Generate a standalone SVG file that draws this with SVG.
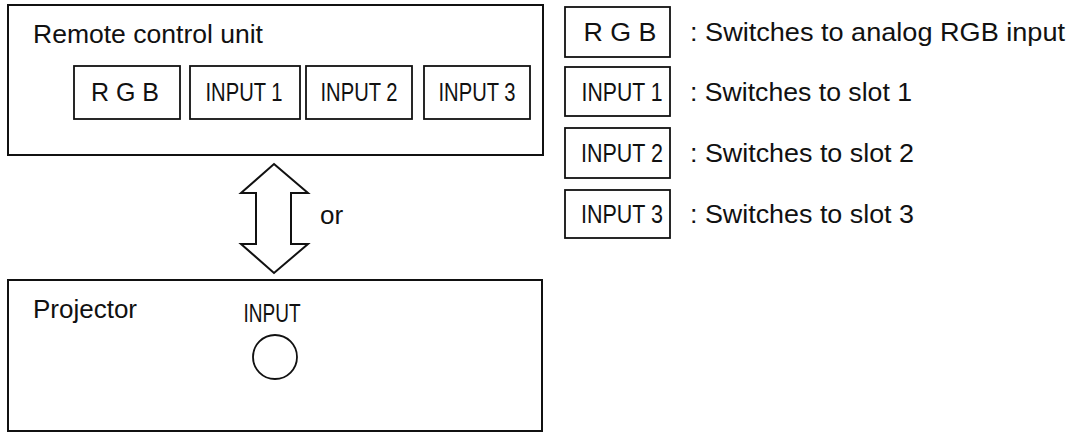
<svg xmlns="http://www.w3.org/2000/svg" width="1070" height="433" viewBox="0 0 1070 433">
<style>
.box{fill:#fff;stroke:#111;stroke-width:2}
.btn{fill:#fff;stroke:#111;stroke-width:1.8}
.t{font-family:"Liberation Sans",Arial,sans-serif;font-size:26px;fill:#111}
.b{font-family:"Liberation Sans",Arial,sans-serif;font-size:25px;fill:#111;text-anchor:middle}
.arrow{fill:#fff;stroke:#111;stroke-width:2;stroke-linejoin:miter}
</style>
<rect width="1070" height="433" fill="#fff"/>
<g id="remote">
<rect class="box" x="8" y="5" width="535" height="150"/>
<text class="t" x="33" y="43" textLength="230" lengthAdjust="spacingAndGlyphs">Remote control unit</text>
</g>
<g id="btn-rgb"><rect class="btn" x="74" y="66" width="106" height="53"/><text class="b" x="125" y="101">R G B</text></g>
<g id="btn-input1"><rect class="btn" x="190" y="66" width="110" height="53"/><text class="b" x="244" y="101" textLength="77" lengthAdjust="spacingAndGlyphs">INPUT 1</text></g>
<g id="btn-input2"><rect class="btn" x="306" y="66" width="106" height="53"/><text class="b" x="359" y="101" textLength="77" lengthAdjust="spacingAndGlyphs">INPUT 2</text></g>
<g id="btn-input3"><rect class="btn" x="424" y="66" width="106" height="53"/><text class="b" x="477" y="101" textLength="77" lengthAdjust="spacingAndGlyphs">INPUT 3</text></g>
<g id="connectors">
<path class="arrow" d="M274,164 L308,193 L291,193 L291,244 L308,244 L274,273 L241,244 L256,244 L256,193 L241,193 Z"/>
<text class="t" x="320" y="224">or</text>
</g>
<g id="projector">
<rect class="box" x="8" y="280" width="534" height="151"/>
<text class="t" x="33" y="318" textLength="104" lengthAdjust="spacingAndGlyphs">Projector</text>
<text class="b" x="272" y="322" textLength="57" lengthAdjust="spacingAndGlyphs">INPUT</text>
<circle cx="275" cy="357" r="22" fill="#fff" stroke="#111" stroke-width="1.8"/>
</g>
<g id="legend-rgb"><rect class="btn" x="565" y="7" width="105" height="50"/><text class="b" x="620" y="41" textLength="73" lengthAdjust="spacingAndGlyphs">R G B</text><text class="t" x="690" y="41" textLength="375" lengthAdjust="spacingAndGlyphs">: Switches to analog RGB input</text></g>
<g id="legend-input1"><rect class="btn" x="565" y="67" width="105" height="49"/><text class="b" x="622" y="101" textLength="81" lengthAdjust="spacingAndGlyphs">INPUT 1</text><text class="t" x="690" y="101" textLength="222" lengthAdjust="spacingAndGlyphs">: Switches to slot 1</text></g>
<g id="legend-input2"><rect class="btn" x="565" y="128" width="105" height="50"/><text class="b" x="622" y="162" textLength="82" lengthAdjust="spacingAndGlyphs">INPUT 2</text><text class="t" x="690" y="162" textLength="224" lengthAdjust="spacingAndGlyphs">: Switches to slot 2</text></g>
<g id="legend-input3"><rect class="btn" x="565" y="190" width="105" height="48"/><text class="b" x="622" y="223" textLength="82" lengthAdjust="spacingAndGlyphs">INPUT 3</text><text class="t" x="690" y="223" textLength="224" lengthAdjust="spacingAndGlyphs">: Switches to slot 3</text></g>
</svg>
